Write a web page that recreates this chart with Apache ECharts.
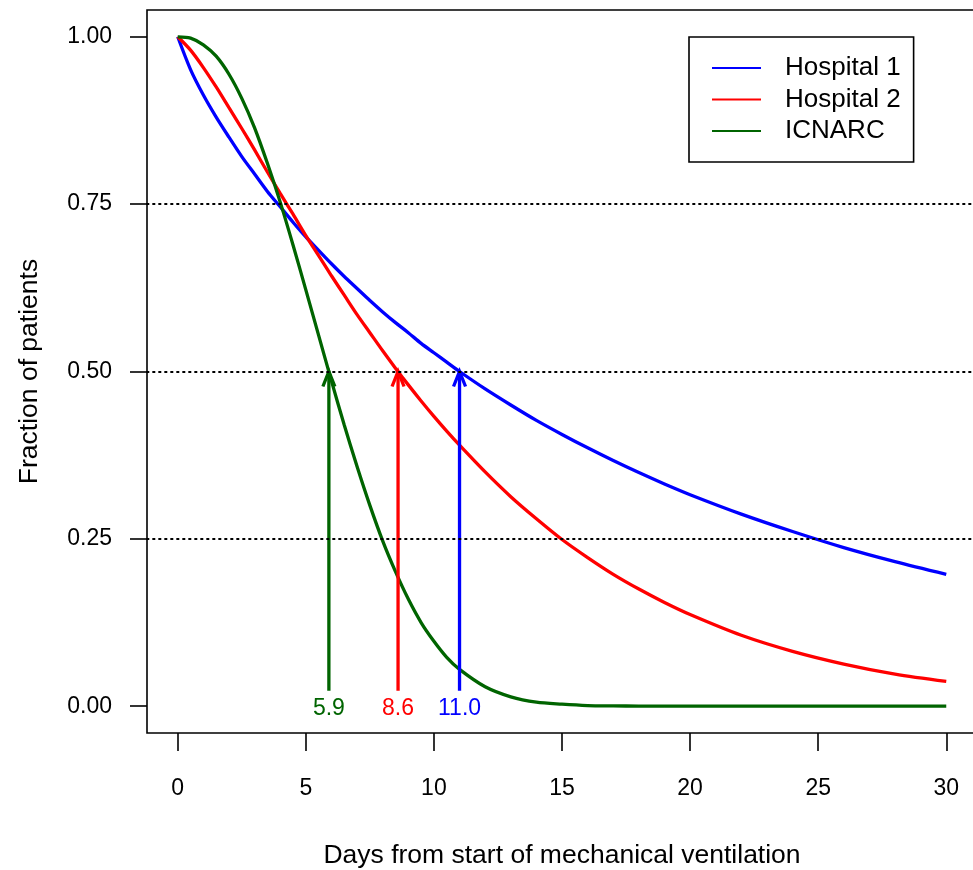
<!DOCTYPE html>
<html>
<head>
<meta charset="utf-8">
<script src="https://cdn.jsdelivr.net/npm/echarts@6/dist/echarts.min.js"></script>
<style>
  html, body { margin: 0; padding: 0; background: #fff; }
  #chart { width: 973px; height: 870px; }
</style>
</head>
<body>
<div id="chart"></div>
<script>
var days = [0, 0.5, 1, 1.5, 2, 2.5, 3, 3.5, 4, 4.5, 5, 5.5, 6, 6.5, 7, 7.5, 8, 8.5, 9, 9.5,
  10, 10.5, 11, 12, 13, 14, 15, 16, 17, 18, 19, 20, 22, 24, 26, 28, 30]

// fraction of patients still ventilated
var hospital1 = [1, 0.951, 0.913, 0.880, 0.850, 0.821, 0.795, 0.769, 0.746, 0.723, 0.701, 0.681,
  0.661, 0.642, 0.624, 0.606, 0.589, 0.573, 0.558, 0.542, 0.528, 0.514, 0.500, 0.474, 0.450,
  0.427, 0.406, 0.386, 0.367, 0.349, 0.332, 0.316, 0.287, 0.261, 0.237, 0.216, 0.197]
var hospital2 = [1, 0.980, 0.954, 0.925, 0.894, 0.863, 0.831, 0.798, 0.766, 0.735, 0.703, 0.673,
  0.643, 0.614, 0.585, 0.558, 0.531, 0.505, 0.480, 0.456, 0.433, 0.411, 0.390, 0.350, 0.313,
  0.280, 0.249, 0.222, 0.197, 0.175, 0.155, 0.137, 0.106, 0.082, 0.063, 0.048, 0.037]
var icnarc = [1, 0.998, 0.988, 0.971, 0.944, 0.908, 0.864, 0.811, 0.753, 0.689, 0.622, 0.554,
  0.486, 0.420, 0.358, 0.300, 0.247, 0.201, 0.160, 0.125, 0.097, 0.073, 0.055, 0.029, 0.014,
  0.006, 0.003, 0.001, 0.0005, 0.0002, 0.0001, 0, 0, 0, 0, 0, 0]

var seriesNames = ['Hospital 1', 'Hospital 2', 'ICNARC']
var seriesColors = ['#0000ff', '#ff0000', '#006400']

// median days (arrows)
var medianDays = [11.0, 8.6, 5.9]
var medianLabels = ['11.0', '8.6', '5.9']
var arrowFrom = 0.023
var arrowTo = 0.5

var xTicks = [0, 5, 10, 15, 20, 25, 30]
var yTicks = [0, 0.25, 0.5, 0.75, 1]
var refLines = [0.25, 0.5, 0.75]

var FONT = '"Liberation Sans", Arial, sans-serif'

function pairs(vals) {
  return days.map(function (d, i) { return [d, vals[i]] })
}

var chart = echarts.init(document.getElementById('chart'))
var allVals = [hospital1, hospital2, icnarc]

var lineSeries = allVals.map(function (vals, i) {
  var s = {
    name: seriesNames[i],
    type: 'line',
    data: pairs(vals),
    showSymbol: false,
    symbol: 'none',
    smooth: 0.3,
    lineStyle: { color: seriesColors[i], width: 3.3 },
    itemStyle: { color: seriesColors[i] },
    z: 3
  }
  if (i === 0) {
    // dotted reference lines
    s.markLine = {
      silent: true,
      symbol: ['none', 'none'],
      label: { show: false },
      lineStyle: { color: '#000', width: 1.8, type: [1.6, 4.4], cap: 'round' },
      data: refLines.map(function (v) { return { yAxis: v } })
    }
  }
  return s
})

var arrowSeries = {
  type: 'custom',
  silent: true,
  z: 4,
  data: medianDays.map(function (d, i) { return [d, i] }),
  renderItem: function (params, api) {
    var x = api.value(0)
    var idx = api.value(1)
    var color = seriesColors[idx]
    var p0 = api.coord([x, arrowFrom])
    var p1 = api.coord([x, arrowTo])
    var pl = api.coord([x, 0])
    var hh = 15, hw = 6
    return {
      type: 'group',
      children: [
        { type: 'line', shape: { x1: p0[0], y1: p0[1], x2: p1[0], y2: p1[1] + 1 },
          style: { stroke: color, lineWidth: 3.3 } },
        { type: 'polyline', shape: { points: [[p1[0] - hw, p1[1] + hh], [p1[0], p1[1]], [p1[0] + hw, p1[1] + hh]] },
          style: { stroke: color, lineWidth: 3.3, fill: null } },
        { type: 'text', x: pl[0], y: pl[1] + 2,
          style: { text: medianLabels[idx], fill: color, font: '23px ' + FONT, align: 'center', verticalAlign: 'middle' } }
      ]
    }
  }
}

var option = {
  animation: false,
  backgroundColor: '#fff',
  textStyle: { fontFamily: FONT },
  grid: {
    show: true, left: 147, top: 10, width: 830, height: 723,
    outerBoundsMode: 'none', containLabel: false,
    borderColor: '#000', borderWidth: 1.6, backgroundColor: 'transparent'
  },
  legend: {
    orient: 'vertical',
    left: 689, top: 37,
    padding: [17.5, 13, 17.5, 23],
    backgroundColor: '#fff',
    borderColor: '#000', borderWidth: 1.6, borderRadius: 0,
    icon: 'rect',
    itemWidth: 49, itemHeight: 2, itemGap: 4.5,
    data: seriesNames,
    textStyle: { fontSize: 26, color: '#000', fontFamily: FONT, lineHeight: 27, padding: [0, 0, 0, 19] }
  },
  xAxis: {
    type: 'value', min: -1.2, max: 31.2,
    name: 'Days from start of mechanical ventilation',
    nameLocation: 'middle', nameGap: 109,
    nameTextStyle: { fontSize: 26.5, color: '#000', fontFamily: FONT },
    axisLine: { show: false, onZero: false },
    axisTick: { show: true, length: 18, customValues: xTicks, lineStyle: { color: '#000', width: 1.6 } },
    axisLabel: { fontSize: 23, color: '#000', margin: 44, customValues: xTicks, fontFamily: FONT },
    splitLine: { show: false }
  },
  yAxis: {
    type: 'value', min: -0.04, max: 1.04,
    name: 'Fraction of patients',
    nameLocation: 'middle', nameGap: 104,
    nameTextStyle: { fontSize: 26.5, color: '#000', fontFamily: FONT },
    axisLine: { show: false, onZero: false },
    axisTick: { show: true, length: 17, customValues: yTicks, lineStyle: { color: '#000', width: 1.6 } },
    axisLabel: { fontSize: 23, color: '#000', margin: 35, customValues: yTicks, fontFamily: FONT,
      formatter: function (v) { return v.toFixed(2) } },
    splitLine: { show: false }
  },
  series: lineSeries.concat([arrowSeries])
}

option && chart.setOption(option)
</script>
</body>
</html>
